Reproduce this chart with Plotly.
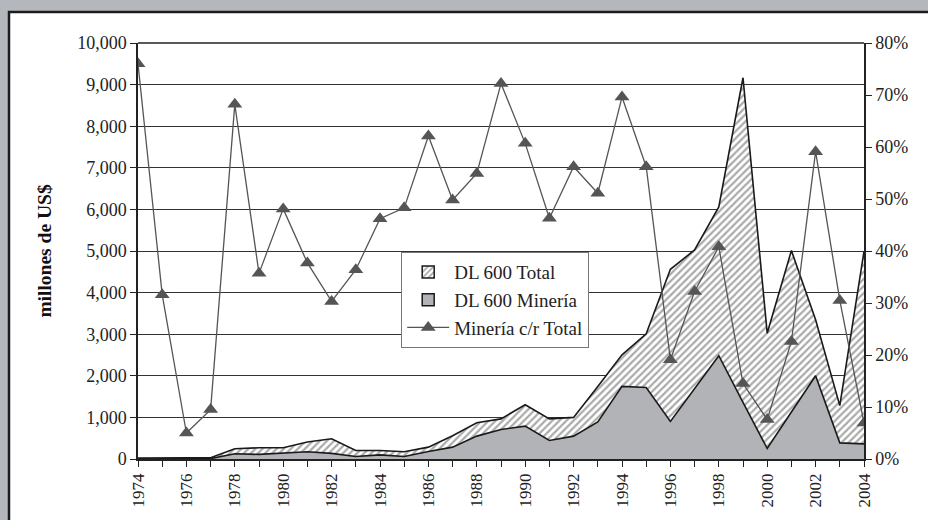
import plotly.graph_objects as go

years = list(range(1974, 2005))
dl600_total = [20, 30, 30, 30, 245, 270, 270, 410, 485, 205, 205, 175, 285, 560,
               870, 965, 1305, 965, 1000, 1745, 2505, 3010, 4560, 5025, 6060, 9165,
               3025, 5010, 3345, 1283, 4990]
dl600_mineria = [0, 10, 10, 10, 125, 110, 135, 175, 135, 60, 100, 60, 180, 285,
                 550, 710, 790, 445, 550, 890, 1745, 1720, 905, 1680, 2482, 1362,
                 252, 1131, 2002, 388, 364]
mineria_pct = [76.0, 31.6, 5.0, 9.5, 68.2, 35.7, 48.1, 37.7, 30.3, 36.4, 46.2, 48.3,
               62.1, 49.8, 54.9, 72.2, 60.7, 46.3, 56.2, 51.1, 69.6, 56.2, 19.1, 32.2,
               40.8, 14.5, 7.6, 22.6, 59.1, 30.5, 6.9]
tick_years = years
tick_labels = [str(y) if y % 2 == 0 else "" for y in years]

FONT = "Liberation Serif, Times New Roman, serif"
HATCH = dict(shape="/", fgcolor="#555555", bgcolor="white", size=5, solidity=0.45)
GRAY = "#b1b3b6"

fig = go.Figure()
fig.add_trace(go.Scatter(
    x=years, y=dl600_total, name="DL 600 Total", mode="lines", showlegend=False,
    line=dict(color="#1a1a1a", width=1.6), fill="tozeroy", fillpattern=HATCH,
))
fig.add_trace(go.Scatter(
    x=years, y=dl600_mineria, name="DL 600 Minería", mode="lines", showlegend=False,
    line=dict(color="#1a1a1a", width=1.6), fill="tozeroy", fillcolor=GRAY,
))
# legend swatches (boxes) for the two areas
fig.add_trace(go.Bar(x=[None], y=[None], name="DL 600 Total",
                     marker=dict(color="white", pattern=HATCH,
                                 line=dict(color="#1a1a1a", width=1.5))))
fig.add_trace(go.Bar(x=[None], y=[None], name="DL 600 Minería",
                     marker=dict(color=GRAY, line=dict(color="#1a1a1a", width=1.5))))
fig.add_trace(go.Scatter(
    x=years, y=[v / 100 for v in mineria_pct], name="Minería c/r Total",
    mode="lines+markers", yaxis="y2",
    line=dict(color="#555555", width=1.3),
    marker=dict(symbol="triangle-up", size=13, color="#555555"),
))

L, R, T, B = 138, 64, 43, 61
W, H = 928, 520
pw, ph = W - L - R, H - T - B

def px(x):
    return (x - L) / pw

def py(y):
    return (H - B - y) / ph

fig.add_shape(type="rect", xref="paper", yref="paper", layer="below",
              x0=px(9), x1=px(940), y0=py(535), y1=py(12),
              fillcolor="white", line=dict(color="#1c1c1c", width=2.5))

fig.update_layout(
    width=W, height=H,
    margin=dict(l=L, r=R, t=T, b=B),
    paper_bgcolor="#b4b7bc", plot_bgcolor="white",
    font=dict(family=FONT, size=18, color="#222222"),
    showlegend=True,
    legend=dict(x=px(401), y=py(252), xanchor="left", yanchor="top",
                bgcolor="white", bordercolor="#777777", borderwidth=1.2,
                font=dict(family=FONT, size=19, color="#222222"),
                tracegroupgap=0, itemwidth=42, traceorder="normal"),
    xaxis=dict(range=[1974, 2004], tickmode="array", tickvals=tick_years,
               ticktext=tick_labels, tickangle=-90, ticks="outside", ticklen=6,
               tickcolor="#222", showgrid=False, zeroline=False,
               showline=True, linecolor="#222", linewidth=1.5,
               tickfont=dict(family=FONT, size=17)),
    yaxis=dict(range=[0, 10000], dtick=1000, tickformat=",d", ticks="outside",
               ticklen=6, tickcolor="#222", showgrid=True, gridcolor="#333333",
               gridwidth=1.2, zeroline=False, showline=True, linecolor="#222",
               linewidth=1.5,
               title=dict(text="<b>millones de US$</b>", standoff=20,
                          font=dict(family=FONT, size=19.5, color="#111")),
               tickfont=dict(family=FONT, size=18)),
    yaxis2=dict(range=[0, 0.8], dtick=0.1, tickformat=".0%", overlaying="y",
                side="right", ticks="outside", ticklen=6, tickcolor="#222",
                showgrid=False, zeroline=False, showline=True, linecolor="#222",
                linewidth=1.5, tickfont=dict(family=FONT, size=18)),
)
fig.add_shape(type="line", xref="paper", yref="paper", x0=0, x1=1, y0=1, y1=1,
              line=dict(color="#222", width=1.5))

fig.write_html("out.html", config={"displayModeBar": False},
               post_script="document.body.style.margin='0';document.body.style.background='#b4b7bc';")
